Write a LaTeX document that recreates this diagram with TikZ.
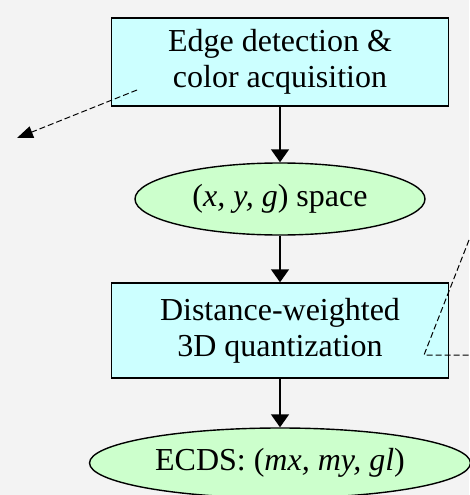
\documentclass[tikz,border=0pt]{standalone}
\usepackage{fontspec}
\setmainfont{Liberation Serif}
\usetikzlibrary{shapes.geometric,arrows.meta}
\definecolor{boxcyan}{HTML}{CCFFFF}
\definecolor{ellgreen}{HTML}{CCFFCC}
\definecolor{paper}{HTML}{F3F3F3}
\tikzset{
    stagebox/.style={draw, line width=1.4pt, fill=boxcyan, minimum width=337pt,
        minimum height=88pt, inner sep=0pt, align=center},
    dataell/.style={draw, ellipse, line width=1.4pt, fill=ellgreen, inner sep=0pt},
    flow/.style={line width=1.4pt, -{Triangle[length=13pt,width=18pt]}},
    hint/.style={line width=1pt, dash pattern=on 6pt off 3pt}
}
\begin{document}
\begin{tikzpicture}[x=1pt, y=-1pt, font=\fontsize{32}{36}\selectfont]
                    \fill[paper] (0, 0) rectangle (469, 495);
                    \useasboundingbox (0, 0) rectangle (469, 495);

                    \node[stagebox] (edge) at (280, 62) {Edge detection \&\\color acquisition};
                    \node[dataell, minimum width=290pt, minimum height=72pt] (xyg) at (280, 199) {(\textit{x, y, g}) space};
                    \node[stagebox, minimum height=95pt] (quant) at (280, 330.5) {Distance-weighted\\3D quantization};
                    \node[dataell, minimum width=381pt, minimum height=70pt] (ecds) at (280, 463) {ECDS: (\textit{mx, my, gl})};

                    \coordinate (L1) at (137, 90);
                    \coordinate (L2) at (17, 138);
                    \coordinate (R1) at (469, 240);
                    \coordinate (R2) at (424, 355);
                    \coordinate (R3) at (469, 355);

                    \draw[flow] (edge) -- (xyg);
                    \draw[flow] (xyg) -- (quant);
                    \draw[flow] (quant) -- (ecds);
                    \draw[hint, -{Triangle[length=16pt,width=12pt]}] (L1) -- (L2);
                    \draw[hint] (R1) -- (R2) -- (R3);
                \end{tikzpicture}
\end{document}
